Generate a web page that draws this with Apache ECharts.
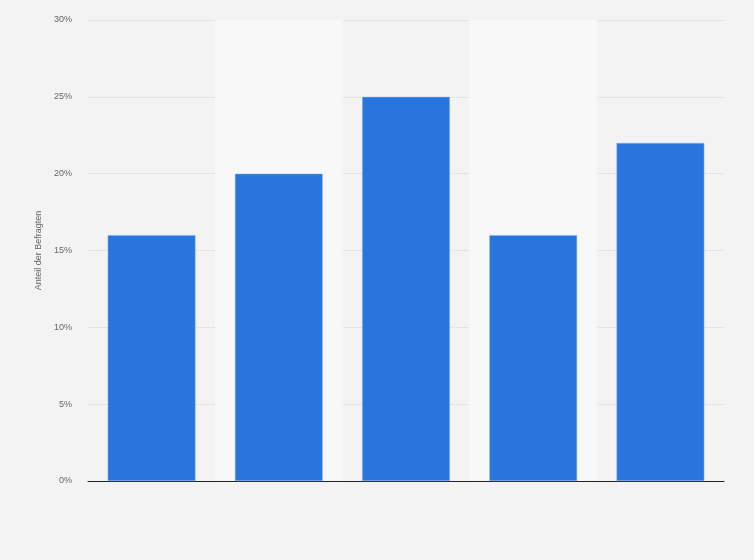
<!DOCTYPE html>
<html>
<head>
<meta charset="utf-8">
<style>
  html, body { margin: 0; padding: 0; background: #f3f3f3; }
  #chart { width: 754px; height: 560px; }
</style>
<script src="https://cdn.jsdelivr.net/npm/echarts@6/dist/echarts.min.js"></script>
</head>
<body>
<div id="chart"></div>
<script>
// labels are not shown in the picture
const categories = ['1', '2', '3', '4', '5'];
const shares = [16, 20, 25, 16, 22];
const yTicks = [0, 5, 10, 15, 20, 25, 30];

const chart = echarts.init(document.getElementById('chart'));

chart.setOption({
    backgroundColor: '#f3f3f3',
    animation: false,
    grid: { left: 88, right: 30, top: 20, bottom: 79 },
    xAxis: {
        type: 'category',
        data: categories,
        axisLine: { lineStyle: { color: '#222', width: 1 } },
        axisTick: { show: false },
        axisLabel: { show: false },
        splitArea: {
            show: true,
            areaStyle: { color: ['rgba(0,0,0,0)', '#f8f8f8'] }
        }
    },
    yAxis: {
        type: 'value',
        min: yTicks[0],
        max: yTicks[yTicks.length - 1],
        interval: 5,
        name: 'Anteil der Befragten',
        nameLocation: 'middle',
        nameGap: 44,
        nameTextStyle: { color: '#666', fontSize: 9, fontFamily: 'Liberation Sans' },
        axisLine: { show: false },
        axisTick: { show: false },
        axisLabel: {
            color: '#666',
            fontSize: 9,
            fontFamily: 'Liberation Sans',
            margin: 16,
            formatter: '{value}%'
        },
        splitLine: { lineStyle: { color: '#d6d6d6', type: [1, 1] } }
    },
    series: [{
        type: 'bar',
        data: shares,
        barWidth: '69%',
        itemStyle: { color: '#2876dd', borderColor: '#8fb6ec', borderWidth: 0.5 }
    }]
});
</script>
</body>
</html>
